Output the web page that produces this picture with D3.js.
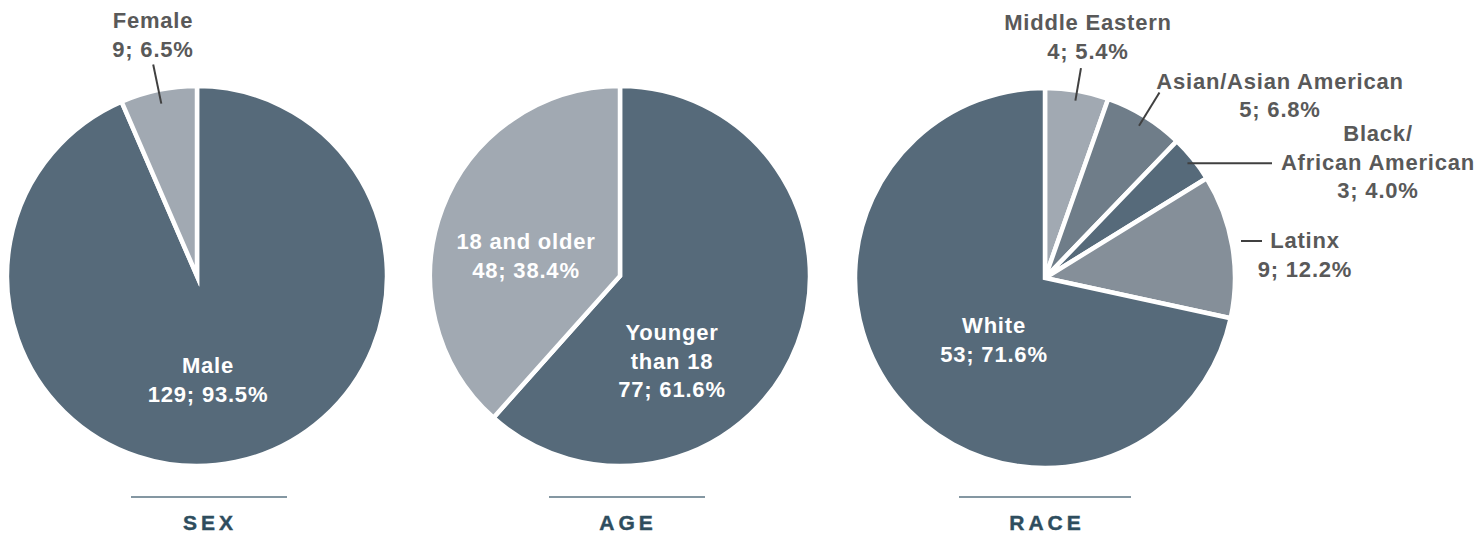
<!DOCTYPE html>
<html>
<head>
<meta charset="utf-8">
<script src="https://cdn.jsdelivr.net/npm/d3@7"></script>
<style>
  html, body { margin: 0; padding: 0; background: #ffffff; }
  svg { display: block; }
  text { font-family: "Liberation Sans", Arial, Helvetica, sans-serif; font-weight: bold; }
</style>
</head>
<body>
<svg id="chart" width="1484" height="535"></svg>
<script>
// ---- data ----
const sexCategories = ["Male", "Female"];
const sexCounts = [129, 9];
const sexPercents = [93.5, 6.5];
const sexLabelLines = [["Male"], ["Female"]];

const ageCategories = ["Younger than 18", "18 and older"];
const ageCounts = [77, 48];
const agePercents = [61.6, 38.4];
const ageLabelLines = [["Younger", "than 18"], ["18 and older"]];

const raceCategories = ["Middle Eastern", "Asian/Asian American", "Black/African American", "Latinx", "White"];
const raceCounts = [4, 5, 3, 9, 53];
const racePercents = [5.4, 6.8, 4.0, 12.2, 71.6];
const raceLabelLines = [["Middle Eastern"], ["Asian/Asian American"], ["Black/", "African American"], ["Latinx"], ["White"]];

const panelTitles = ["SEX", "AGE", "RACE"];

// ---- styling & layout ----
const DARK = "#566a7a", LIGHT = "#a1a9b2", MID = "#6f7d89", MIDLIGHT = "#858f99";
const OUT_TEXT = "#595959", TITLE = "#2e4d5e", RULE = "#5b7483";
const LINE_H = 28.5;

const panels = [
  {
    title: panelTitles[0], cats: sexCategories, counts: sexCounts, pcts: sexPercents, lines: sexLabelLines,
    colors: [DARK, LIGHT],
    cx: 197, cy: 276, r: 190, rule: [131, 287], titleX: 208,
    labels: [
      { dx: 11, dy: 97, inside: true },
      { dx: -44, dy: -248, inside: false, leader: { kind: "radial", r0: 176, r1: 216 } }
    ]
  },
  {
    title: panelTitles[1], cats: ageCategories, counts: ageCounts, pcts: agePercents, lines: ageLabelLines,
    colors: [DARK, LIGHT],
    cx: 620, cy: 276, r: 190, rule: [549, 705], titleX: 626,
    labels: [
      { dx: 52, dy: 64, inside: true },
      { dx: -94, dy: -27, inside: true }
    ]
  },
  {
    title: panelTitles[2], cats: raceCategories, counts: raceCounts, pcts: racePercents, lines: raceLabelLines,
    colors: [LIGHT, MID, DARK, MIDLIGHT, DARK],
    cx: 1045, cy: 278, r: 190, rule: [959, 1131], titleX: 1045,
    labels: [
      { dx: 43, dy: -248, inside: false, leader: { kind: "radial", r0: 180, r1: 213 } },
      { dx: 235, dy: -189.5, inside: false, leader: { kind: "radial", r0: 179, r1: 218 } },
      { dx: 333, dy: -137, inside: false, leader: { kind: "elbow", r0: 183, x1: 227 } },
      { dx: 260, dy: -30, inside: false, leader: { kind: "flat", x0: 196, x1: 217, dy: -37 } },
      { dx: -51, dy: 55, inside: true }
    ]
  }
];

const fmtPct = d3.format(".1f");
const svg = d3.select("#chart");

panels.forEach(p => {
  // slices sized by the stated shares, starting at 12 o'clock, clockwise
  const pie = d3.pie().sort(null).value(d => d.pct);
  const data = p.cats.map((c, i) => ({ cat: c, count: p.counts[i], pct: p.pcts[i], idx: i }));
  const arcs = pie(data);
  const arc = d3.arc().innerRadius(0).outerRadius(p.r);

  const g = svg.append("g").attr("transform", `translate(${p.cx},${p.cy})`);

  g.selectAll("path.slice")
    .data(arcs)
    .join("path")
    .attr("class", "slice")
    .attr("d", arc)
    .attr("fill", d => p.colors[d.data.idx])
    .attr("stroke", "#ffffff")
    .attr("stroke-width", 4.5)
    .attr("stroke-linejoin", "miter")
    .attr("stroke-miterlimit", 10);

  arcs.forEach(a => {
    const lab = p.labels[a.data.idx];
    const mid = (a.startAngle + a.endAngle) / 2;
    const pt = rr => [rr * Math.sin(mid), -rr * Math.cos(mid)];

    if (lab.leader) {
      const L = lab.leader;
      let pts;
      if (L.kind === "radial") pts = [pt(L.r0), pt(L.r1)];
      else if (L.kind === "elbow") { const s = pt(L.r0); pts = [s, [L.x1, s[1]]]; }
      else pts = [[L.x0, L.dy], [L.x1, L.dy]];
      g.append("path")
        .attr("d", d3.line()(pts))
        .attr("stroke", "#404040")
        .attr("stroke-width", 2)
        .attr("fill", "none");
    }

    const lines = p.lines[a.data.idx].concat([`${a.data.count}; ${fmtPct(a.data.pct)}%`]);
    const t = g.append("text")
      .attr("text-anchor", "middle")
      .attr("font-size", 22)
      .attr("letter-spacing", 0.8)
      .attr("fill", lab.inside ? "#ffffff" : OUT_TEXT);
    lines.forEach((ln, k) => {
      t.append("tspan")
        .attr("x", lab.dx)
        .attr("y", lab.dy + k * LINE_H)
        .text(ln);
    });
  });

  // panel caption with rule
  svg.append("line")
    .attr("x1", p.rule[0]).attr("x2", p.rule[1])
    .attr("y1", 497).attr("y2", 497)
    .attr("stroke", RULE).attr("stroke-width", 1.6);
  svg.append("text")
    .attr("x", p.titleX + 2)
    .attr("y", 530)
    .attr("text-anchor", "middle")
    .attr("font-size", 21)
    .attr("letter-spacing", 4)
    .attr("fill", TITLE)
    .attr("stroke", TITLE)
    .attr("stroke-width", 0.4)
    .text(p.title);
});
</script>
</body>
</html>
